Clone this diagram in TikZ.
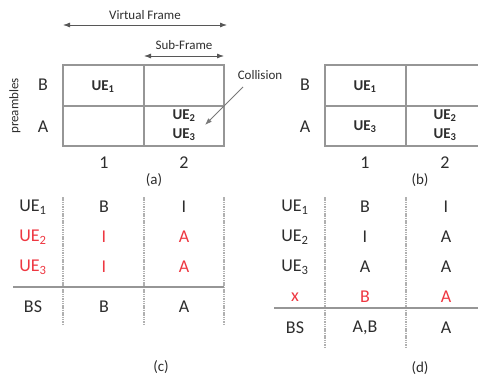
\documentclass[tikz,border=0pt]{standalone}
\usepackage{fontspec}
\setmainfont{Carlito}
\usetikzlibrary{arrows.meta}
\definecolor{txt}{RGB}{45,45,45}
\definecolor{ln}{RGB}{150,150,150}
\definecolor{rd}{RGB}{238,55,65}
\tikzset{
  big/.style={font=\fontsize{18}{20}\selectfont, text=txt, inner sep=0pt},
  ue/.style={font=\bfseries\fontsize{15}{17}\selectfont, text=txt, inner sep=0pt},
  small/.style={font=\fontsize{13}{15}\selectfont, text=txt, inner sep=0pt},
  capt/.style={font=\fontsize{15}{17}\selectfont, text=txt, inner sep=0pt},
  gridline/.style={draw=ln, line width=1.2pt},
  dline/.style={draw=ln!75, line width=1.2pt, dash pattern=on 1.5pt off 0.8pt},
  hline/.style={draw=ln, line width=1.5pt},
  darr/.style={draw=txt!80, line width=0.8pt, {Latex[length=7pt,width=5pt]}-{Latex[length=7pt,width=5pt]}},
  sarr/.style={draw=ln!80!black, line width=0.8pt, -{Latex[length=7pt,width=5pt]}},
  redtxt/.style={text=rd}
}
\newcommand{\sbs}[1]{\textsubscript{#1}}
\begin{document}
\begin{tikzpicture}[x=1pt,y=-1pt]
\clip (0,0) rectangle (478,377);
\useasboundingbox (0,0) rectangle (478,377);
% (a)
\coordinate (vfl) at (63,25); \coordinate (vfr) at (227,25);
\draw[darr] (vfl) -- (vfr);
\node[small] (vf) at (145,15) {Virtual Frame};
\coordinate (sfl) at (144,56); \coordinate (sfr) at (224,56);
\draw[darr] (sfl) -- (sfr);
\node[small] (sf) at (184,45) {Sub-Frame};
\draw[gridline] (63,65) rectangle (224,146);
\draw[gridline] (63,106) -- (224,106);
\draw[gridline] (144,65) -- (144,146);
\node[small, rotate=90] (pre) at (15,106) {preambles};
\node[big] (aB) at (43,85) {B};
\node[big] (aA) at (43,127) {A};
\node[ue] (a11) at (103,87) {UE\sbs{1}};
\node[ue] (a22) at (184,116) {UE\sbs{2}};
\node[ue] (a23) at (184,135) {UE\sbs{3}};
\node[big] (a1) at (104,163) {1};
\node[big] (a2) at (184,163) {2};
\node[capt] (acap) at (154,180) {(a)};
\node[small] (col) at (260,75) {Collision};
\coordinate (cs) at (243,87);
\coordinate (ce) at (205,125);
\draw[sarr] (cs) -- (ce);
% (b)
\draw[gridline] (325,65) rectangle (487,146);
\draw[gridline] (325,106) -- (487,106);
\draw[gridline] (406,65) -- (406,146);
\node[big] (bB) at (305,85) {B};
\node[big] (bA) at (305,127) {A};
\node[ue] (b11) at (365,87) {UE\sbs{1}};
\node[ue] (b13) at (365,127) {UE\sbs{3}};
\node[ue] (b22) at (445,116) {UE\sbs{2}};
\node[ue] (b23) at (445,135) {UE\sbs{3}};
\node[big] (b1) at (365,163) {1};
\node[big] (b2) at (445,163) {2};
\node[capt] (bcap) at (420,180) {(b)};
% (c)
\draw[dline] (63,197) -- (63,325);
\draw[dline] (144,197) -- (144,325);
\draw[dline] (224,197) -- (224,325);
\draw[hline] (13,287) -- (224,287);
\node[big] (c1) at (33,207) {UE\sbs{1}};
\node[big] (c1a) at (104,207) {B};
\node[big] (c1b) at (184,207) {I};
\node[big, redtxt] (c2) at (33,237) {UE\sbs{2}};
\node[big, redtxt] (c2a) at (104,237) {I};
\node[big, redtxt] (c2b) at (184,237) {A};
\node[big, redtxt] (c3) at (33,267) {UE\sbs{3}};
\node[big, redtxt] (c3a) at (104,267) {I};
\node[big, redtxt] (c3b) at (184,267) {A};
\node[big] (cbs) at (33,307) {BS};
\node[big] (cbsa) at (104,307) {B};
\node[big] (cbsb) at (184,307) {A};
\node[capt] (ccap) at (161,367) {(c)};
% (d)
\draw[dline] (325,197) -- (325,347);
\draw[dline] (406,197) -- (406,347);
\draw[hline] (274,308) -- (478,308);
\node[big] (d1) at (295,207) {UE\sbs{1}};
\node[big] (d1a) at (365,207) {B};
\node[big] (d1b) at (446,207) {I};
\node[big] (d2) at (295,237) {UE\sbs{2}};
\node[big] (d2a) at (365,237) {I};
\node[big] (d2b) at (446,237) {A};
\node[big] (d3) at (295,267) {UE\sbs{3}};
\node[big] (d3a) at (365,267) {A};
\node[big] (d3b) at (446,267) {A};
\node[big, redtxt] (dx) at (295,297) {x};
\node[big, redtxt] (dxa) at (365,297) {B};
\node[big, redtxt] (dxb) at (446,297) {A};
\node[big] (dbs) at (295,328) {BS};
\node[big] (dbsa) at (365,328) {A,B};
\node[big] (dbsb) at (446,328) {A};
\node[capt] (dcap) at (420,368) {(d)};
\end{tikzpicture}
\end{document}
